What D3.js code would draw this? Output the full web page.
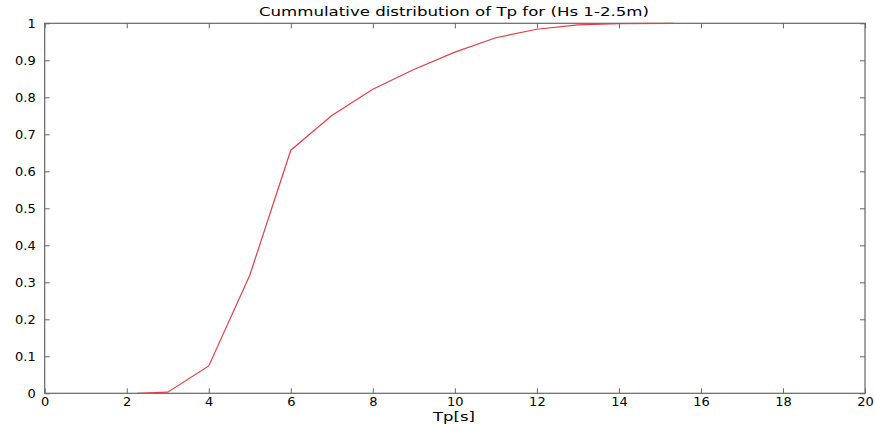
<!DOCTYPE html>
<html><head><meta charset="utf-8">
<script src="https://cdn.jsdelivr.net/npm/d3@7"></script>
<style>body{margin:0;background:#fff}svg{display:block}text{font-family:"DejaVu Sans",sans-serif;fill:#000}</style>
</head><body><svg id="c" width="875" height="425"></svg>
<script>
const tpValues = [2.25, 3, 4, 5, 6, 7, 8, 9, 10, 11, 12, 13, 14, 15.33];
const cdfValues = [0, 0.003, 0.074, 0.319, 0.657, 0.751, 0.822, 0.875, 0.922, 0.961, 0.984, 0.996, 0.999, 1.0];
const xTicks = [0, 2, 4, 6, 8, 10, 12, 14, 16, 18, 20];
const yTicks = [0, 0.1, 0.2, 0.3, 0.4, 0.5, 0.6, 0.7, 0.8, 0.9, 1];
const titleText = "Cummulative distribution of Tp for (Hs 1-2.5m)";
const xLabel = "Tp[s]";

const svg = d3.select("#c");
const m = {l: 44.7, r: 865, t: 23.3, b: 393.3};
const x = d3.scaleLinear().domain([0, 20]).range([m.l, m.r]);
const y = d3.scaleLinear().domain([0, 1]).range([m.b, m.t]);
const axisColor = "#666";
const tl = 5;
const fontFam = '"DejaVu Sans",sans-serif';

svg.append("rect").attr("x", m.l).attr("y", m.t).attr("width", m.r - m.l).attr("height", m.b - m.t)
  .attr("fill", "none").attr("stroke", axisColor).attr("stroke-width", 1.2);

function styleAxis(g) {
  g.select(".domain").remove();
  g.selectAll(".tick line").attr("stroke", axisColor);
  g.selectAll(".tick text").attr("font-size", 13).attr("font-family", fontFam).attr("fill", "#000");
}
svg.append("g").attr("transform", `translate(0,${m.b})`)
  .call(d3.axisBottom(x).tickValues(xTicks).tickFormat(d3.format("d")).tickSizeInner(-tl).tickSizeOuter(0).tickPadding(3.5))
  .call(styleAxis);
svg.append("g").attr("transform", `translate(0,${m.t})`)
  .call(d3.axisTop(x).tickValues(xTicks).tickFormat("").tickSizeInner(-tl).tickSizeOuter(0))
  .call(styleAxis);
svg.append("g").attr("transform", `translate(${m.l},0)`)
  .call(d3.axisLeft(y).tickValues(yTicks).tickFormat(d => d === 0 || d === 1 ? d3.format("d")(d) : d3.format(".1f")(d)).tickSizeInner(-tl).tickSizeOuter(0).tickPadding(9))
  .call(styleAxis);
svg.append("g").attr("transform", `translate(${m.r},0)`)
  .call(d3.axisRight(y).tickValues(yTicks).tickFormat("").tickSizeInner(-tl).tickSizeOuter(0))
  .call(styleAxis);

const line = d3.line().x((d, i) => x(tpValues[i])).y(d => y(d));
svg.append("path").datum(cdfValues).attr("d", line)
  .attr("fill", "none").attr("stroke", "#e0404a").attr("stroke-width", 1.2);

svg.append("text").attr("x", 454).attr("y", 16).attr("text-anchor", "middle")
  .attr("font-size", 13).attr("textLength", 390).attr("lengthAdjust", "spacingAndGlyphs").text(titleText);
svg.append("text").attr("x", 454).attr("y", 420.5).attr("text-anchor", "middle")
  .attr("font-size", 12.5).attr("textLength", 42).attr("lengthAdjust", "spacingAndGlyphs").text(xLabel);
</script></body></html>
